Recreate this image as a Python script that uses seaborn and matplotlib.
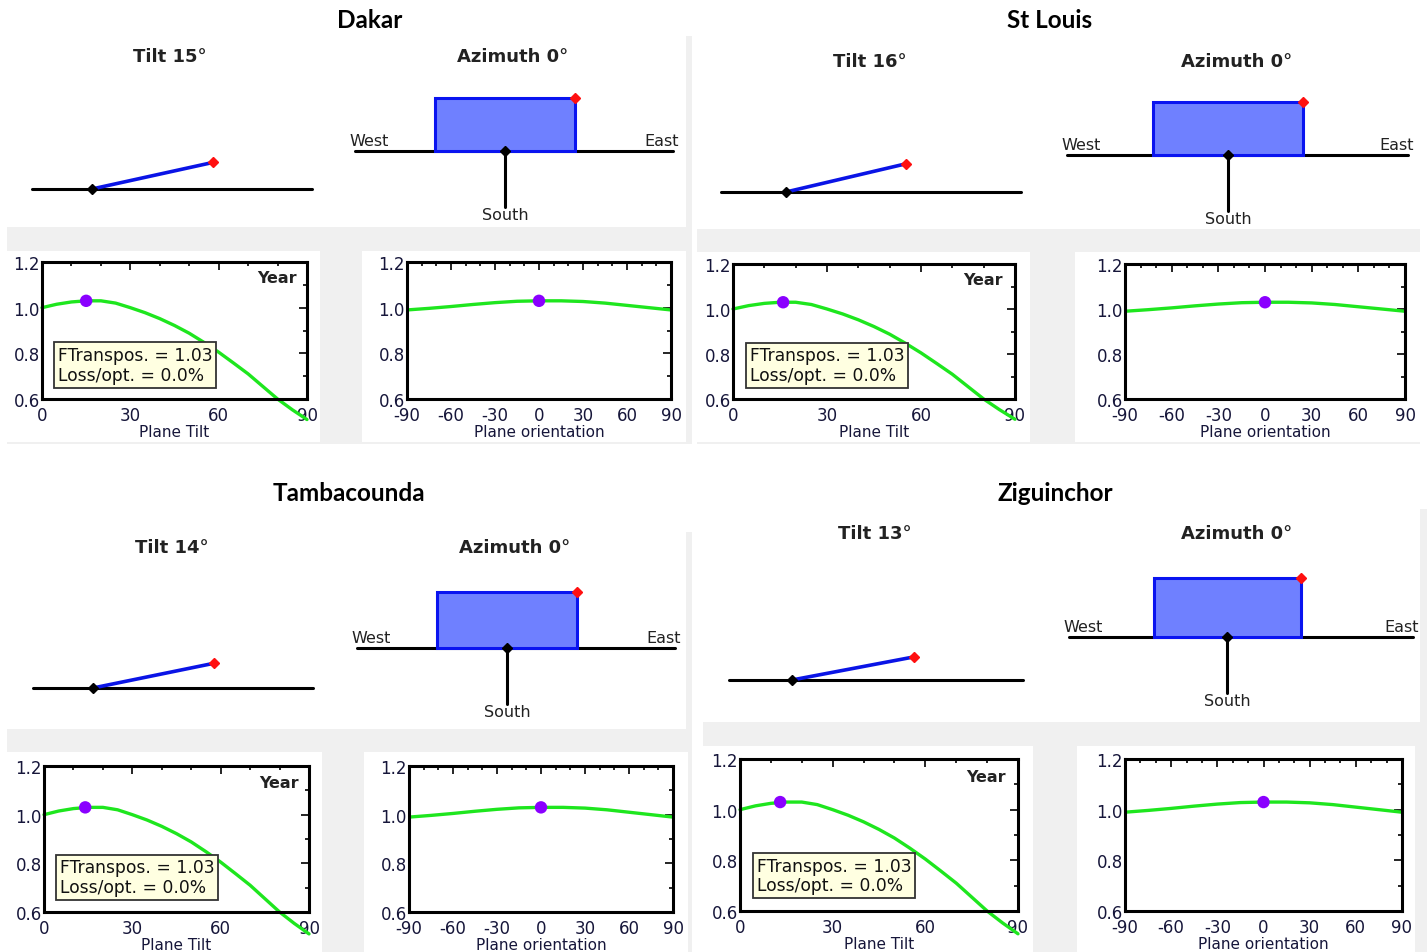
"""
plot.py
Optimal plane tilt / orientation for four Senegal stations (PVsyst-like panels).
"""

import matplotlib
matplotlib.use("Agg")
import matplotlib.pyplot as plt
import matplotlib.transforms as mtransforms
import seaborn as sns
import numpy as np
from matplotlib.patches import Rectangle
from matplotlib.ticker import MultipleLocator, FormatStrFormatter

W, H = 1427, 953

# ---- data ----
stations = ["Dakar", "St Louis", "Tambacounda", "Ziguinchor"]
opt_tilt = [15, 16, 14, 13]
opt_azimuth = [0, 0, 0, 0]
ftranspos = [1.03, 1.03, 1.03, 1.03]
loss_opt = [0.0, 0.0, 0.0, 0.0]

tilt_deg = [0, 5, 10, 15, 20, 25, 30, 35, 40, 45, 50, 55, 60, 65, 70, 75, 80, 85, 90]
tilt_gain = [1.00, 1.015, 1.025, 1.03, 1.03, 1.02, 1.00, 0.978, 0.952, 0.922,
             0.888, 0.848, 0.805, 0.758, 0.71, 0.655, 0.60, 0.553, 0.51]

orient_deg = [-90, -75, -60, -45, -30, -15, 0, 15, 30, 45, 60, 75, 90]
orient_gain = [0.99, 0.997, 1.005, 1.014, 1.022, 1.028, 1.03, 1.03, 1.027,
               1.02, 1.01, 1.0, 0.99]

# ---- layout in pixels (left, top, right, bottom) ----
layout = {
    "Dakar": dict(title=(370, 20), block=(7, 37, 692, 445), diag=(7, 37, 686, 228),
                  panels=[(7, 252, 320, 443), (362, 252, 686, 443)],
                  tilt_title=(170, 57), tilt_line=(32, 312, 190), pivot=92,
                  az_title=(513, 57), az_line=(355, 673, 152), az_center=505, rect=(140, 53),
                  plots=[(42, 263, 307, 400), (407, 263, 671, 400)]),
    "St Louis": dict(title=(1050, 20), block=(697, 37, 1420, 445), diag=(697, 37, 1420, 230),
                     panels=[(697, 253, 1030, 443), (1075, 253, 1420, 443)],
                     tilt_title=(870, 62), tilt_line=(721, 1021, 193), pivot=786,
                     az_title=(1237, 62), az_line=(1067, 1408, 156), az_center=1228, rect=(150, 53),
                     plots=[(733, 265, 1015, 400), (1125, 265, 1405, 400)]),
    "Tambacounda": dict(title=(349, 494), block=(7, 533, 692, 953), diag=(7, 533, 686, 730),
                        panels=[(7, 753, 322, 953), (364, 753, 688, 953)],
                        tilt_title=(172, 548), tilt_line=(33, 313, 689), pivot=93,
                        az_title=(515, 548), az_line=(357, 675, 649), az_center=507, rect=(140, 56),
                        plots=[(44, 767, 309, 913), (409, 767, 673, 913)]),
    "Ziguinchor": dict(title=(1055, 494), block=(703, 510, 1427, 953), diag=(703, 510, 1420, 723),
                       panels=[(703, 747, 1033, 953), (1077, 747, 1415, 953)],
                       tilt_title=(875, 534), tilt_line=(729, 1023, 681), pivot=792,
                       az_title=(1237, 534), az_line=(1069, 1413, 638), az_center=1227, rect=(147, 59),
                       plots=[(740, 760, 1018, 912), (1125, 760, 1402, 912)]),
}

GRAY = "#f0f0f0"
GREEN = "#1ee61e"
PURPLE = "#8a00ff"
RECT_FILL = "#6f80ff"
TICK_COL = "#16163a"

sns.set_theme(style="white")
plt.rcParams["font.family"] = ["DejaVu Sans"]
plt.rcParams["axes.unicode_minus"] = False

fig = plt.figure(figsize=(W / 100, H / 100), dpi=100)
bg = fig.add_axes([0, 0, 1, 1])
bg.set_xlim(0, W)
bg.set_ylim(H, 0)
bg.axis("off")


def px_axes(box):
    x0, y0, x1, y1 = box
    return fig.add_axes([x0 / W, 1 - y1 / H, (x1 - x0) / W, (y1 - y0) / H])


def box_rect(box, color, z=0):
    x0, y0, x1, y1 = box
    bg.add_patch(Rectangle((x0, y0), x1 - x0, y1 - y0, fc=color, ec="none", zorder=z))


def style_plot(ax, xlim, xlabel):
    ax.set_xlim(*xlim)
    ax.set_ylim(0.6, 1.2)
    ax.xaxis.set_major_locator(MultipleLocator(30))
    ax.xaxis.set_minor_locator(MultipleLocator(10))
    ax.yaxis.set_major_locator(MultipleLocator(0.2))
    ax.yaxis.set_minor_locator(MultipleLocator(0.1))
    ax.yaxis.set_major_formatter(FormatStrFormatter("%.1f"))
    ax.tick_params(which="both", direction="in", top=True, right=True,
                   width=1.2, color="black", labelsize=12, labelcolor=TICK_COL)
    ax.tick_params(axis="y", pad=1.5)
    ax.tick_params(axis="x", pad=5)
    ax.tick_params(which="major", length=6)
    ax.tick_params(which="minor", length=3)
    for s in ax.spines.values():
        s.set_color("black")
        s.set_linewidth(2.2)
    ax.set_xlabel(xlabel, fontsize=11, color=TICK_COL, labelpad=0)
    ax.set_ylabel("")
    ax.set_facecolor("white")
    # lift the bottom y label a little so it does not sit on the first x label
    lowest = ax.yaxis.get_major_ticks()[0].label1
    lowest.set_transform(lowest.get_transform() +
                         mtransforms.ScaledTranslation(0, 3 / 72, fig.dpi_scale_trans))


for i, name in enumerate(stations):
    L = layout[name]

    # panel backgrounds
    box_rect(L["block"], GRAY, 0)
    box_rect(L["diag"], "white", 1)
    for p in L["panels"]:
        box_rect(p, "white", 1)

    bg.text(*L["title"], name, ha="center", va="center", fontsize=17.5,
            fontweight="bold", family=["Lato", "DejaVu Sans"], color="black", zorder=5)

    # tilt diagram (drawn with the same flattened look as the source)
    tx, ty = L["tilt_title"]
    bg.text(tx, ty, f"Tilt {opt_tilt[i]}°", ha="center", va="center", fontsize=13,
            fontweight="bold", color="#222222", zorder=5)
    hx0, hx1, hy = L["tilt_line"]
    bg.plot([hx0, hx1], [hy, hy], color="black", lw=2.2, zorder=3)
    px = L["pivot"]
    ang = np.radians(opt_tilt[i])
    ex, ey = px + 125 * np.cos(ang), hy - 125 * np.sin(ang) * 0.82
    bg.plot([px, ex], [hy, ey], color="#0a14e6", lw=2.6, zorder=4)
    bg.plot([px], [hy], "D", color="black", ms=5.5, zorder=5)
    bg.plot([ex], [ey], "D", color="#ff1010", ms=5.5, zorder=5)

    # azimuth diagram
    ax_, ay_ = L["az_title"]
    bg.text(ax_, ay_, f"Azimuth {opt_azimuth[i]}°", ha="center", va="center", fontsize=13,
            fontweight="bold", color="#222222", zorder=5)
    ax0, ax1, ay = L["az_line"]
    cx = L["az_center"] + opt_azimuth[i]
    rw, rh = L["rect"]
    bg.plot([ax0, ax1], [ay, ay], color="black", lw=2.2, zorder=3)
    bg.add_patch(Rectangle((cx - rw / 2, ay - rh), rw, rh, fc=RECT_FILL, ec="#0a14f0",
                           lw=2.2, zorder=4))
    bg.plot([cx, cx], [ay, ay + 56], color="black", lw=2.2, zorder=5)
    bg.plot([cx], [ay], "D", color="black", ms=5.5, zorder=6)
    bg.plot([cx + rw / 2], [ay - rh], "D", color="#ff1010", ms=5.5, zorder=6)
    bg.text(ax0 + 14, ay - 10, "West", ha="center", va="center", fontsize=11.5,
            color="#222222", zorder=5)
    bg.text(ax1 - 11, ay - 10, "East", ha="center", va="center", fontsize=11.5,
            color="#222222", zorder=5)
    bg.text(cx, ay + 64, "South", ha="center", va="center", fontsize=11.5,
            color="#222222", zorder=5)

    # tilt curve
    a1 = px_axes(L["plots"][0])
    sns.lineplot(x=tilt_deg, y=tilt_gain, ax=a1, color=GREEN, lw=2.4)
    for ln in a1.lines:
        ln.set_clip_on(False)
    sns.scatterplot(x=[opt_tilt[i]], y=[ftranspos[i]], ax=a1, color=PURPLE, s=80,
                    edgecolor="none", zorder=6)
    style_plot(a1, (0, 90), "Plane Tilt")
    a1.text(0.885, 0.885, "Year", transform=a1.transAxes, ha="center", va="center",
            fontsize=11.5, fontweight="bold", color="#222222")
    a1.text(0.06, 0.11, f"FTranspos. = {ftranspos[i]:.2f}\nLoss/opt. = {loss_opt[i]:.1f}%",
            transform=a1.transAxes, ha="left", va="bottom", fontsize=12.3,
            color="#111111", linespacing=1.12, zorder=7,
            bbox=dict(boxstyle="square,pad=0.22", fc="#ffffe1", ec="#333333", lw=1.3))

    # orientation curve
    a2 = px_axes(L["plots"][1])
    sns.lineplot(x=orient_deg, y=orient_gain, ax=a2, color=GREEN, lw=2.4)
    sns.scatterplot(x=[opt_azimuth[i]], y=[ftranspos[i]], ax=a2, color=PURPLE, s=80,
                    edgecolor="none", zorder=6)
    style_plot(a2, (-90, 90), "Plane orientation")

fig.savefig("out.png", dpi=100)
